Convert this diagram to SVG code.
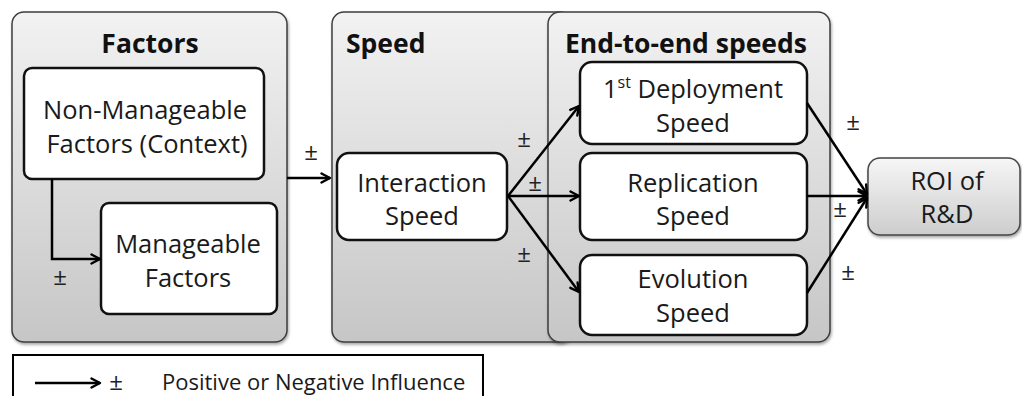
<svg xmlns="http://www.w3.org/2000/svg" width="1022" height="396" viewBox="0 0 1022 396">
  <defs>
    <linearGradient id="panelFill" x1="0" y1="0" x2="0" y2="1">
      <stop offset="0" stop-color="#f2f2f2"/>
      <stop offset="1" stop-color="#c6c6c6"/>
    </linearGradient>
    <linearGradient id="roiFill" x1="0" y1="0" x2="0" y2="1">
      <stop offset="0" stop-color="#f6f6f6"/>
      <stop offset="1" stop-color="#cdcdcd"/>
    </linearGradient>
    <filter id="shadow" x="-5%" y="-5%" width="110%" height="115%">
      <feDropShadow dx="1" dy="2" stdDeviation="1.5" flood-color="#000" flood-opacity="0.35"/>
    </filter>
    <marker id="arrow" viewBox="0 0 12 12" refX="10.5" refY="6" markerWidth="12" markerHeight="12" markerUnits="userSpaceOnUse" orient="auto">
      <path d="M2,1.5 L10.5,6 L2,10.5" fill="none" stroke="#000" stroke-width="2.4" stroke-linecap="round" stroke-linejoin="round"/>
    </marker>
  </defs>
  <style>
    .panel { fill: url(#panelFill); stroke: #3c3c3c; stroke-width: 1.5; filter: url(#shadow); }
    .box { fill: #ffffff; stroke: #111; stroke-width: 2.5; }
    .roi { fill: url(#roiFill); stroke: #444; stroke-width: 1.5; filter: url(#shadow); }
    .title { font-family: "Open Sans", Lato, sans-serif; font-weight: bold; font-size: 26.5px; fill: #111; }
    .label { font-family: "Open Sans", Lato, sans-serif; font-size: 25.5px; fill: #1a1a1a; text-anchor: middle; }
    .legend-text { font-family: "Open Sans", Lato, sans-serif; font-size: 22px; fill: #1a1a1a; text-anchor: start; }
    .pm { font-family: "Open Sans", Lato, sans-serif; font-size: 24px; fill: #222; text-anchor: middle; }
    .link { fill: none; stroke: #000; stroke-width: 2.5; marker-end: url(#arrow); }
  </style>

  <!-- Factors panel -->
  <g id="factors">
    <rect class="panel" x="12" y="12" width="275" height="330" rx="12"/>
    <text class="title" x="150" y="53" text-anchor="middle">Factors</text>
  </g>

  <!-- Speed panel (its right side sits under the end-to-end panel) -->
  <g id="speed">
    <rect class="panel" x="332" y="12" width="240" height="330" rx="12"/>
    <text class="title" x="346" y="53">Speed</text>
  </g>

  <!-- End-to-end speeds panel -->
  <g id="end-to-end">
    <rect class="panel" x="548" y="12" width="282" height="330" rx="12"/>
    <text class="title" x="686" y="53" text-anchor="middle">End-to-end speeds</text>
  </g>

  <g id="non-manageable">
    <rect class="box" x="24" y="68" width="240" height="111" rx="8"/>
    <text class="label" x="145" y="119">Non-Manageable</text>
    <text class="label" x="147" y="153">Factors (Context)</text>
  </g>

  <g id="manageable">
    <rect class="box" x="101" y="203" width="176" height="111" rx="8"/>
    <text class="label" x="188" y="253">Manageable</text>
    <text class="label" x="188" y="287">Factors</text>
  </g>

  <g id="interaction">
    <rect class="box" x="337" y="153" width="170" height="87" rx="12"/>
    <text class="label" x="422" y="192">Interaction</text>
    <text class="label" x="422" y="225">Speed</text>
  </g>

  <g id="deployment">
    <rect class="box" x="580" y="62" width="227" height="82" rx="12"/>
    <text class="label" x="693" y="98">1<tspan font-size="16" dy="-10">st</tspan><tspan dy="10"> Deployment</tspan></text>
    <text class="label" x="693" y="132">Speed</text>
  </g>

  <g id="replication">
    <rect class="box" x="580" y="153" width="227" height="87" rx="12"/>
    <text class="label" x="693" y="192">Replication</text>
    <text class="label" x="693" y="225">Speed</text>
  </g>

  <g id="evolution">
    <rect class="box" x="580" y="255" width="227" height="80" rx="12"/>
    <text class="label" x="693" y="288">Evolution</text>
    <text class="label" x="693" y="322">Speed</text>
  </g>

  <g id="roi">
    <rect class="roi" x="868" y="158" width="152" height="77" rx="12"/>
    <text class="label" x="947" y="190">ROI of</text>
    <text class="label" x="947" y="223">R&amp;D</text>
  </g>

  <!-- Influence connectors -->
  <g id="connectors">
    <path class="link" d="M52,179 V259 H100"/>
    <path class="link" d="M287,178 H330"/>
    <path class="link" d="M508,196 L579,106"/>
    <path class="link" d="M508,196 H579"/>
    <path class="link" d="M508,196 L579,292"/>
    <path class="link" d="M807,103 L867,194"/>
    <path class="link" d="M807,196 H867"/>
    <path class="link" d="M807,293 L867,198"/>
    <text class="pm" x="60" y="285">±</text>
    <text class="pm" x="311" y="160">±</text>
    <text class="pm" x="524" y="147">±</text>
    <text class="pm" x="535" y="191">±</text>
    <text class="pm" x="524" y="262">±</text>
    <text class="pm" x="853" y="130">±</text>
    <text class="pm" x="840" y="217">±</text>
    <text class="pm" x="848" y="280">±</text>
  </g>

  <!-- Legend -->
  <g id="legend">
    <rect x="13" y="355" width="470" height="50" fill="#fff" stroke="#000" stroke-width="2"/>
    <path class="link" d="M35,383 H100"/>
    <text class="pm" x="116" y="390">±</text>
    <text class="legend-text" x="162" y="390">Positive or Negative Influence</text>
  </g>
</svg>
